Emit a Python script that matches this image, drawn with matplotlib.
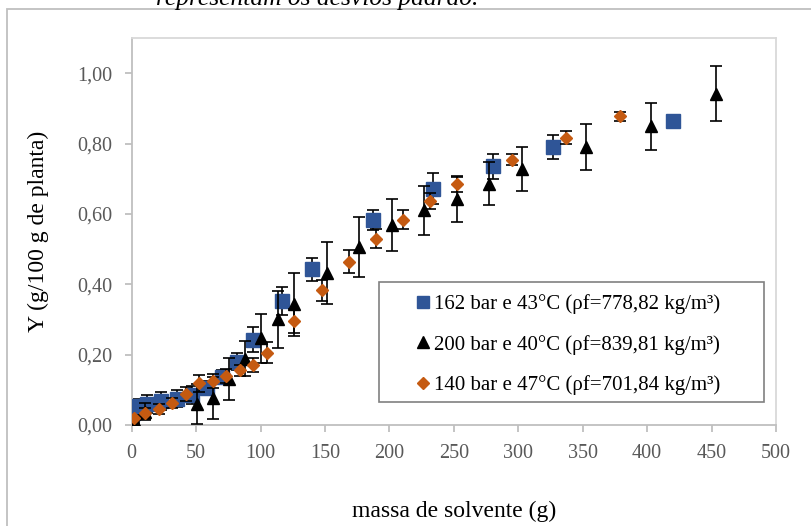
import matplotlib
matplotlib.use("Agg")
from matplotlib import pyplot as plt
from matplotlib.ticker import FuncFormatter, MultipleLocator
from matplotlib.patches import Rectangle
from matplotlib.lines import Line2D

plt.rcParams['font.family'] = ['Liberation Serif', 'DejaVu Serif']

# 162 bar e 43°C
x_162 = [1.2, 6, 11.5, 23, 35, 46.5, 58.2, 69.8, 81.5, 93.9, 116.4, 140.3, 187, 234, 280, 327, 420.3]
y_162 = [0.033, 0.055, 0.060, 0.068, 0.075, 0.085, 0.104, 0.137, 0.180, 0.243, 0.353, 0.442,
         0.582, 0.672, 0.735, 0.789, 0.864]
e_162 = [0.01, 0.02, 0.025, 0.025, 0.025, 0.025, 0.02, 0.02, 0.025, 0.035, 0.04, 0.033,
         0.028, 0.044, 0.036, 0.034, 0.005]

# 200 bar e 40°C
x_200 = [1.8, 10.3, 50.4, 63.3, 75.7, 87.9, 100.7, 113.3, 125.7, 151.3, 176.4, 201.8,
         226.8, 252.2, 277.3, 302.5, 352.6, 403, 453.4]
y_200 = [0.014, 0.038, 0.060, 0.076, 0.131, 0.189, 0.246, 0.300, 0.343, 0.432,
         0.506, 0.568, 0.610, 0.643, 0.686, 0.727, 0.790, 0.849, 0.942]
e_200 = [0.01, 0.025, 0.057, 0.06, 0.06, 0.05, 0.07, 0.082, 0.09, 0.088, 0.085,
         0.074, 0.069, 0.065, 0.061, 0.062, 0.065, 0.066, 0.077]

# 140 bar e 47°C
x_140 = [1.8, 10.3, 21.2, 31.5, 41.9, 52.5, 63.3, 73.2, 84, 94.5, 105, 125.7, 147.4, 168.6,
         189.6, 210.8, 231.5, 252.7, 294.9, 336.8, 379]
y_140 = [0.019, 0.033, 0.045, 0.063, 0.088, 0.118, 0.126, 0.138, 0.155, 0.170, 0.206, 0.296,
         0.383, 0.464, 0.530, 0.584, 0.637, 0.684, 0.754, 0.817, 0.877]
e_140 = [0.01, 0.015, 0.015, 0.015, 0.02, 0.025, 0.02, 0.02, 0.015, 0.02, 0.03, 0.035, 0.03,
         0.033, 0.026, 0.026, 0.022, 0.022, 0.016, 0.018, 0.014]

labels = ["162 bar e 43°C (ρf=778,82 kg/m³)",
          "200 bar e 40°C (ρf=839,81 kg/m³)",
          "140 bar e 47°C (ρf=701,84 kg/m³)"]

azul = "#2F5597"
laranja = "#C55A11"

fig = plt.figure(figsize=(8.12, 5.26), dpi=100)
ax = fig.add_axes([131.7/812, 1-425/526, (776-131.7)/812, (425-38)/526])

# moldura externa do gráfico (cortada)
fig.patches.append(Rectangle((7/812, -0.1), 1.2, 1-9/526+0.1, transform=fig.transFigure,
                             fill=False, edgecolor="#BFBFBF", lw=1.3))
fig.text(317/812, 1-5/526, "representam os desvios padrão.", style="italic",
         fontsize=18.4, ha="center", va="baseline")

eb = dict(ecolor="black", elinewidth=1.2, capsize=4.5, capthick=1.2, linestyle="none")
ax.errorbar(x_162, y_162, yerr=e_162, marker="s", ms=10, mfc=azul, mec=azul, **eb, zorder=3)
ax.errorbar(x_200, y_200, yerr=e_200, marker="^", ms=8, mfc="black", mec="black", **eb, zorder=4)
ax.errorbar(x_140, y_140, yerr=e_140, marker="D", ms=6.5, mfc=laranja, mec=laranja, **eb, zorder=5)

ax.set_xlim(0, 500)
ax.set_ylim(0, 1.1)
ax.xaxis.set_major_locator(MultipleLocator(50))
ax.yaxis.set_major_locator(MultipleLocator(0.2))
ax.yaxis.set_major_formatter(FuncFormatter(lambda v, p: f"{v:.2f}".replace(".", ",")))

for s in ["left", "bottom"]:
    ax.spines[s].set_color("#BFBFBF")
    ax.spines[s].set_linewidth(1.3)
for s in ["top", "right"]:
    ax.spines[s].set_color("#D9D9D9")
    ax.spines[s].set_linewidth(1.3)
ax.tick_params(colors="#BFBFBF", labelcolor="#595959", labelsize=14.5, length=5, width=1.3)
ax.tick_params(axis="x", pad=9)
ax.tick_params(axis="y", pad=9)

ax.set_xlabel("massa de solvente (g)", fontsize=17, labelpad=27)
ax.set_ylabel("Y (g/100 g de planta)", fontsize=17, labelpad=20)

# legenda: caixa desenhada à parte
x0, x1 = (379-131.7)/644.3, (764-131.7)/644.3
y0, y1 = (425-402)/387, (425-282)/387
ax.add_patch(Rectangle((x0, y0), x1-x0, y1-y0, transform=ax.transAxes, fill=False,
                       edgecolor="#808080", lw=1.2, zorder=6, clip_on=False))
handles = [Line2D([], [], marker="s", ms=9, color=azul, ls="none"),
           Line2D([], [], marker="^", ms=8, color="black", ls="none"),
           Line2D([], [], marker="D", ms=6, color=laranja, ls="none")]
leg = ax.legend(handles, labels, loc="upper left", bbox_to_anchor=((418-131.7)/644.3, (425-294)/387),
                fontsize=15, frameon=False, handlelength=0.5, handletextpad=0.25,
                labelspacing=1.0, borderpad=0, borderaxespad=0)

fig.savefig("out.png", dpi=100)
